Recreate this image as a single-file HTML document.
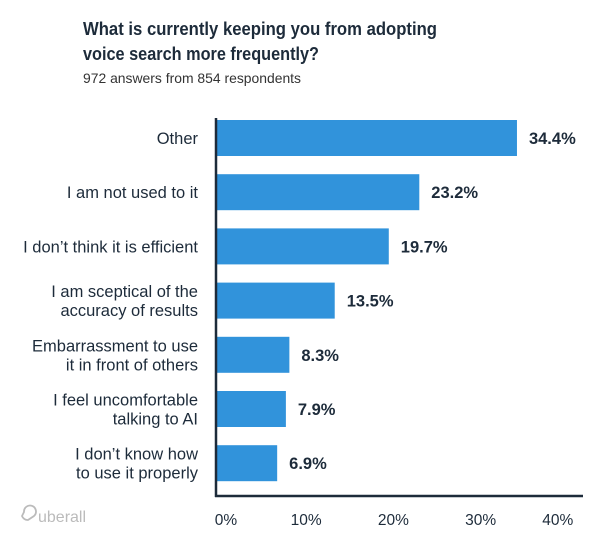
<!DOCTYPE html>
<html><head><meta charset="utf-8"><style>
body{margin:0;background:#fff;width:602px;height:538px;overflow:hidden;font-family:"Liberation Sans",sans-serif;}
</style></head><body>
<svg width="602" height="538" xmlns="http://www.w3.org/2000/svg">
<text x="83" y="35" font-size="18.5" font-weight="bold" fill="#1d2b3a" textLength="354" lengthAdjust="spacingAndGlyphs">What is currently keeping you from adopting</text>
<text x="83" y="60" font-size="18.5" font-weight="bold" fill="#1d2b3a" textLength="236" lengthAdjust="spacingAndGlyphs">voice search more frequently?</text>
<text x="83" y="83" font-size="14" fill="#333" textLength="218" lengthAdjust="spacingAndGlyphs">972 answers from 854 respondents</text>
<g id="plot"></g>
<g>
<path d="M24 512 a6 6 0 1 1 10 4 l-6 4 a6 6 0 0 1 -6 -4 z" fill="none" stroke="#bbb" stroke-width="1.8"/>
<text x="38" y="522" font-size="16" fill="#bbb">uberall</text>
</g>
</svg>
<script>
const categories=[["Other"],["I am not used to it"],["I don’t think it is efficient"],["I am sceptical of the","accuracy of results"],["Embarrassment to use","it in front of others"],["I feel uncomfortable","talking to AI"],["I don’t know how","to use it properly"]];
const values=[34.4,23.2,19.7,13.5,8.3,7.9,6.9];
const ticks=[0,10,20,30,40];
const NS="http://www.w3.org/2000/svg";
const g=document.getElementById('plot');
const x0=217,pxPer=8.72,top0=138,step=54.2,bh=36;
const xs=v=>x0+v*pxPer;
function mk(t,a){const e=document.createElementNS(NS,t);for(const k in a)e.setAttribute(k,a[k]);g.appendChild(e);return e;}
values.forEach((v,i)=>{
  const cy=top0+step*i;
  const r=mk('rect',{x:x0,y:cy-bh/2,width:xs(v)-x0,height:bh,fill:'#3193db'});
  
  
  const t=mk('text',{x:xs(v)+12,y:cy+6,'font-size':16.5,'font-weight':'bold',fill:'#1d2b3a'});
  t.textContent=v.toFixed(1)+'%';
  
  
  const lines=categories[i];
  lines.forEach((ln,j)=>{
    const lt=mk('text',{x:198,y:cy+6+(j-(lines.length-1)/2)*19,'font-size':16.5,'text-anchor':'end',fill:'#1d2b3a'});
    lt.textContent=ln;
    
    
  });
});
const yAx=mk('line',{x1:x0-1,y1:118,x2:x0-1,y2:497,stroke:'#1d2b3a','stroke-width':2.5});


const xAx=mk('line',{x1:x0-2,y1:496,x2:583,y2:496,stroke:'#1d2b3a','stroke-width':2.5});


ticks.forEach(tv=>{
  const t=mk('text',{x:xs(tv)+(tv===0?9:tv===40?-8:2),y:525,'font-size':15.5,'text-anchor':'middle',fill:'#1d2b3a'});
  t.textContent=tv+'%';
  
  
});
</script>
</body></html>
